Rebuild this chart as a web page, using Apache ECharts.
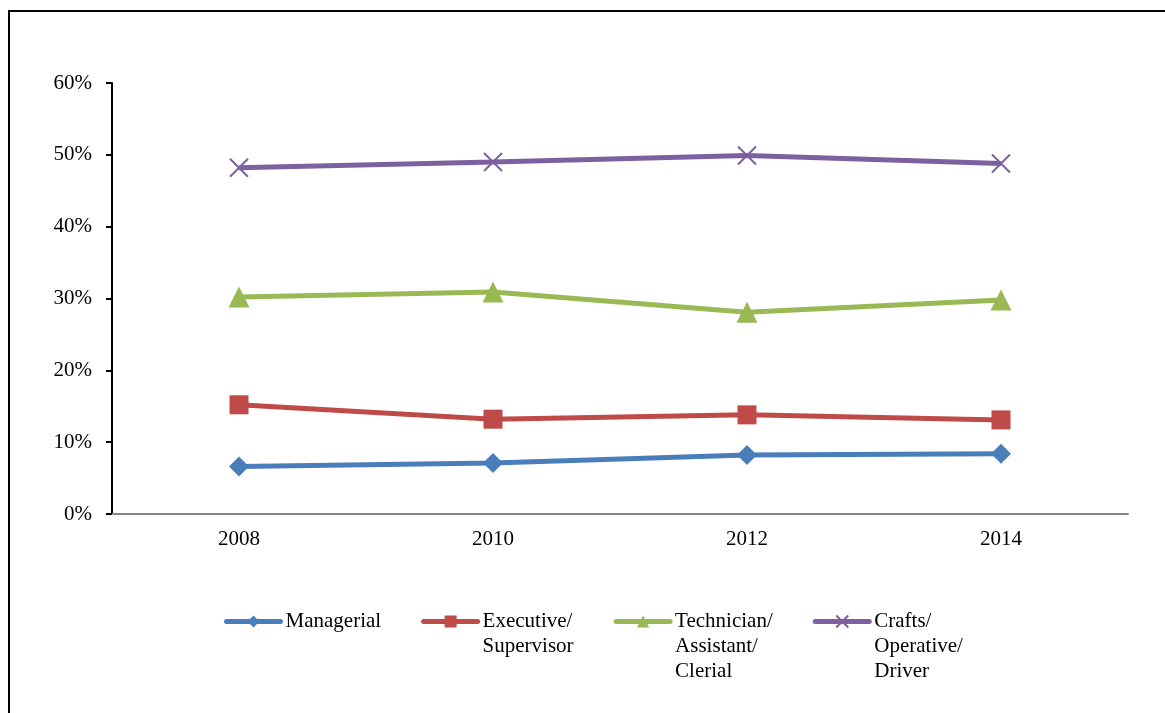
<!DOCTYPE html>
<html>
<head>
<meta charset="utf-8">
<script src="https://cdn.jsdelivr.net/npm/echarts@6/dist/echarts.min.js"></script>
<style>
  html, body { margin: 0; padding: 0; background: #fff; }
  #chart { width: 1165px; height: 713px; }
</style>
</head>
<body>
<div id="chart"></div>
<script>
// years on the x axis
const years = ['2008', '2010', '2012', '2014']

// share of each job group (percent)
const managerial = [6.6, 7.1, 8.2, 8.4]
const executive = [15.2, 13.2, 13.8, 13.1]
const technician = [30.2, 30.9, 28.1, 29.8]
const crafts = [48.2, 49.0, 49.9, 48.8]

const seriesNames = ['Managerial', 'Executive/\nSupervisor', 'Technician/\nAssistant/\nClerial', 'Crafts/\nOperative/\nDriver']

const chart = echarts.init(document.getElementById('chart'))
const font = 'Liberation Serif, Times New Roman, serif'

function lineSeries(name, data, color, symbol, size, extra) {
  return Object.assign({
    name: name,
    type: 'line',
    data: data,
    symbol: symbol,
    symbolSize: size,
    lineStyle: { width: 5, color: color },
    itemStyle: { color: color },
    emphasis: { disabled: true },
  }, extra || {})
}

// legend text is centred on the icon, so pad multi-line names with blank lines
// on top to keep the first line level with the icon
function legendLabel(name) {
  const lines = name.split('\n').length
  return ' \n'.repeat(lines - 1) + name
}

const option = {
  animation: false,
  graphic: [{
    type: 'rect',
    shape: { x: 9, y: 11, width: 1200, height: 760 },
    style: { fill: 'none', stroke: '#000', lineWidth: 2 },
    silent: true,
  }],
  grid: { left: 112, right: 37, top: 83, bottom: 199 },
  legend: {
    left: 224,
    top: 559,
    padding: 0,
    itemGap: 40,
    itemWidth: 54,
    itemHeight: 15,
    data: seriesNames,
    formatter: legendLabel,
    lineStyle: { width: 5, cap: 'round' },
    textStyle: { fontFamily: font, fontSize: 21, color: '#000', lineHeight: 25 },
  },
  xAxis: {
    type: 'category',
    data: years,
    axisLine: { lineStyle: { color: '#868686', width: 2 } },
    axisTick: { length: 6, lineStyle: { color: '#868686', width: 1.5 } },
    axisLabel: { fontFamily: font, fontSize: 21, color: '#000', margin: 15 },
  },
  yAxis: {
    type: 'value',
    min: 0,
    max: 60,
    interval: 10,
    splitLine: { show: false },
    axisLine: { show: true, lineStyle: { color: '#000', width: 2 } },
    axisTick: { show: true, length: 6, lineStyle: { color: '#000', width: 2 } },
    axisLabel: { fontFamily: font, fontSize: 21, color: '#000', margin: 20, formatter: '{value}%' },
  },
  series: [
    lineSeries(seriesNames[0], managerial, '#4a7ebb', 'diamond', 20),
    lineSeries(seriesNames[1], executive, '#be4b48', 'rect', 19),
    lineSeries(seriesNames[2], technician, '#98b954', 'triangle', 21),
    lineSeries(seriesNames[3], crafts, '#7d60a0', 'path://M0,0L10,10M10,0L0,10', 18, {
      itemStyle: { color: 'none', borderColor: '#7d60a0', borderWidth: 2 },
    }),
  ],
}

chart.setOption(option)
</script>
</body>
</html>
